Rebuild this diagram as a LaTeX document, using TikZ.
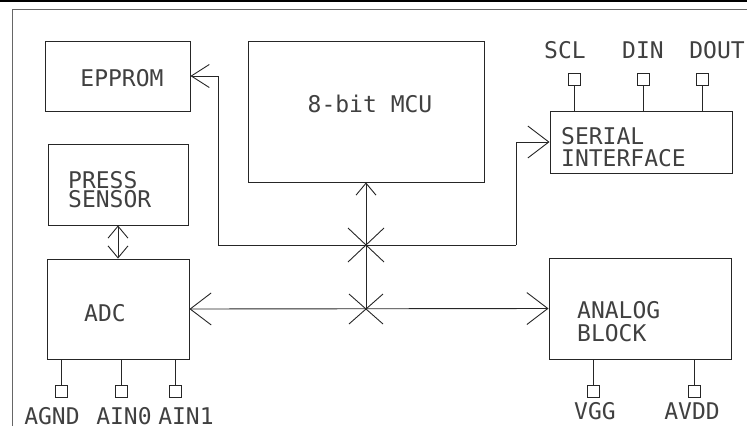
\documentclass[tikz,border=0pt]{standalone}
\usepackage{fontspec}
\setmonofont{DejaVu Sans Mono}
\usetikzlibrary{arrows.meta,calc}
\tikzset{
  box/.style={draw=black!85, line width=0.9pt, inner sep=0pt},
  pin/.style={draw=black!85, line width=0.8pt, minimum width=12pt, minimum height=12pt, inner sep=0pt},
  txt/.style={inner sep=0pt, text=black!75, text height=16pt, text depth=0pt, font=\ttfamily\fontsize{23}{23}\selectfont},
  wire/.style={draw=black!85, line width=0.9pt},
  bigbarb/.tip={Straight Barb[length=21pt, width=32pt, line width=0.9pt]},
  smallbarb/.tip={Straight Barb[length=12pt, width=20pt, line width=0.9pt]},
  midbarb/.tip={Straight Barb[length=18pt, width=23pt, line width=0.9pt]},
}
\begin{document}
\begin{tikzpicture}[x=1pt, y=-1pt]
\useasboundingbox (0,0) rectangle (747,426);
% frame
\draw[line width=2pt, black] (0,1) -- (747,1);
\draw[line width=1pt, black!60] (12,426) -- (12,9) -- (747,9);

% boxes
\node[box, minimum width=145pt, minimum height=70pt] (ep) at (117.5,76) {};
\node[box, minimum width=236pt, minimum height=141pt] (mcu) at (366,111.5) {};
\node[box, minimum width=182pt, minimum height=62pt] (ser) at (641,142) {};
\node[box, minimum width=140pt, minimum height=81pt] (ps) at (118,184.5) {};
\node[box, minimum width=142pt, minimum height=100pt] (adc) at (118,309) {};
\node[box, minimum width=182pt, minimum height=101pt] (ana) at (640,308.5) {};

% texts
\node[txt] (tep) at (122,78) {EPPROM};
\node[txt] (tmcu) at (370,104) {8-bit MCU};
\node[txt, anchor=west] (tser1) at (561,136) {SERIAL};
\node[txt, anchor=west] (tser2) at (561,158) {INTERFACE};
\node[txt, anchor=west] (tps1) at (68,180) {PRESS};
\node[txt, anchor=west] (tps2) at (68,199) {SENSOR};
\node[txt] (tadc) at (105,313) {ADC};
\node[txt, anchor=west] (tana1) at (577,310) {ANALOG};
\node[txt, anchor=west] (tana2) at (577,333) {BLOCK};

% serial pins
\node[pin] (p1) at (574,79) {};
\node[pin] (p2) at (643,79) {};
\node[pin] (p3) at (702,79) {};
\draw[wire] (p1.south) -- (p1.south |- ser.north);
\draw[wire] (p2.south) -- (p2.south |- ser.north);
\draw[wire] (p3.south) -- (p3.south |- ser.north);
\node[txt] (l1) at (565,50) {SCL};
\node[txt] (l2) at (643,50) {DIN};
\node[txt] (l3) at (717,50) {DOUT};

% adc pins
\node[pin] (a1) at (61,391) {};
\node[pin] (a2) at (121,391) {};
\node[pin] (a3) at (175,391) {};
\draw[wire] (a1.north) -- (a1.north |- adc.south);
\draw[wire] (a2.north) -- (a2.north |- adc.south);
\draw[wire] (a3.north) -- (a3.north |- adc.south);
\node[txt] (la1) at (52,416) {AGND};
\node[txt] (la2) at (124,416) {AIN0};
\node[txt] (la3) at (186,416) {AIN1};

% analog pins
\node[pin] (b1) at (593,391) {};
\node[pin] (b2) at (694,391) {};
\draw[wire] (b1.north) -- (b1.north |- ana.south);
\draw[wire] (b2.north) -- (b2.north |- ana.south);
\node[txt] (lb1) at (595,411) {VGG};
\node[txt] (lb2) at (692,411) {AVDD};

% bus
\coordinate (c1) at (366,245);
\coordinate (c2) at (366,309);
\coordinate (lt) at (218,245);
\coordinate (rt) at (516,245);
\draw[wire] (lt) -- (rt);
\draw[wire, -{midbarb}] (lt) |- (ep.east);
\draw[wire, -{bigbarb}] (rt) |- (ser.west);
\draw[wire, -{smallbarb}] (c2) -- (mcu.south);
\draw[wire, {bigbarb}-{bigbarb}] (adc.east) -- (ana.west);
\draw[wire, {smallbarb}-{smallbarb}] (ps.south) -- (adc.north);
% crossings
\draw[wire] ($(c1)+(-18,-17)$) -- ($(c1)+(18,17)$);
\draw[wire] ($(c1)+(-18,17)$) -- ($(c1)+(18,-17)$);
\draw[wire] ($(c2)+(-17,-15)$) -- ($(c2)+(17,15)$);
\draw[wire] ($(c2)+(-17,15)$) -- ($(c2)+(17,-15)$);
\end{tikzpicture}
\end{document}
